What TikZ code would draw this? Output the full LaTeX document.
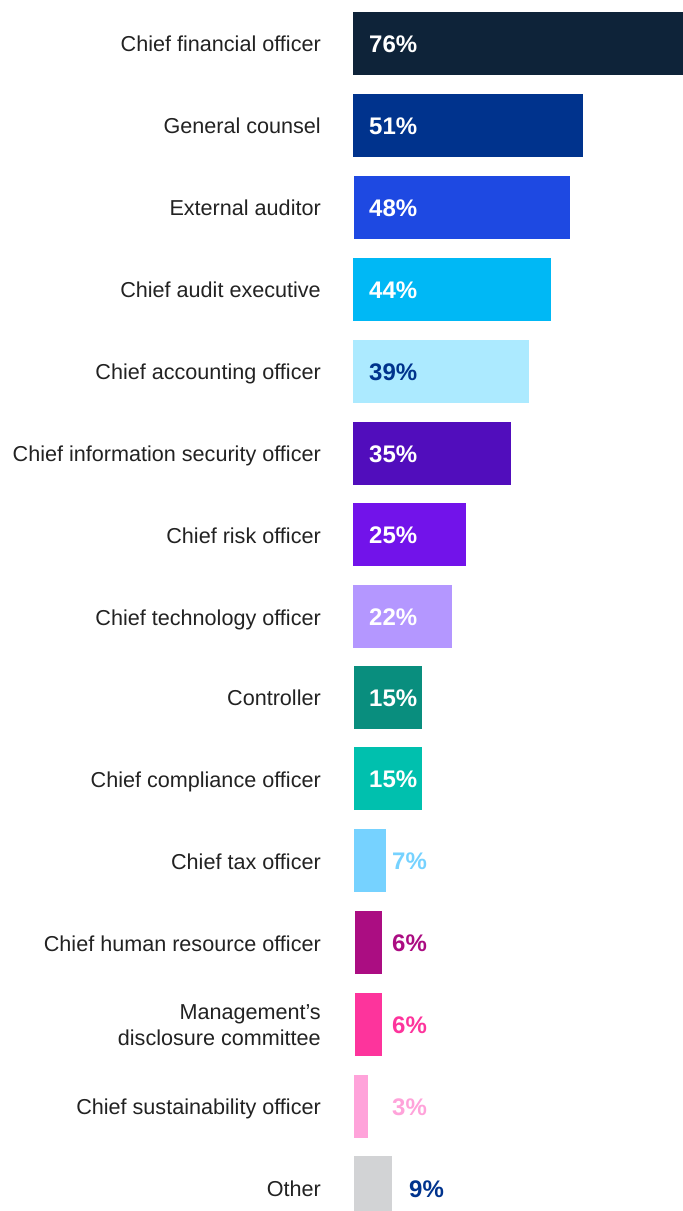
\documentclass[tikz,border=0pt]{standalone}
\usepackage{fontspec}
\setmainfont{Liberation Sans}
\definecolor{c1}{HTML}{0E2339}
\definecolor{c2}{HTML}{00338D}
\definecolor{c3}{HTML}{1E49E2}
\definecolor{c4}{HTML}{00B8F5}
\definecolor{c5}{HTML}{ACEAFF}
\definecolor{c6}{HTML}{510DBC}
\definecolor{c7}{HTML}{7213EA}
\definecolor{c8}{HTML}{B497FF}
\definecolor{c9}{HTML}{098E7E}
\definecolor{c10}{HTML}{00C0AE}
\definecolor{c11}{HTML}{76D2FF}
\definecolor{c12}{HTML}{AB0D82}
\definecolor{c13}{HTML}{FD349C}
\definecolor{c14}{HTML}{FFA3DA}
\definecolor{c15}{HTML}{D2D3D5}
\definecolor{labeltext}{HTML}{222222}
\tikzset{
  lbl/.style={anchor=base east, inner sep=0pt, text=labeltext, font=\fontsize{21.6}{26}\selectfont, align=right},
  pct/.style={anchor=west, inner sep=0pt, font=\fontsize{24}{28}\selectfont\bfseries},
}
\begin{document}
\begin{tikzpicture}[x=1pt,y=-1pt]
\useasboundingbox (0,0) rectangle (683,1211);
\clip (0,0) rectangle (683,1211);
% bars: name/left/right/top/color
\foreach \i/\l/\r/\t/\c in {
  1/353/683/12/c1, 2/353/583/94/c2, 3/354/570/176/c3, 4/353/551/258/c4,
  5/353/529/340/c5, 6/353/511/422/c6, 7/353/466/503/c7, 8/353/452/585/c8,
  9/354/422/666/c9, 10/354/422/747/c10, 11/354/386/829/c11, 12/355/382/911/c12,
  13/355/382/993/c13, 14/354/368/1075/c14, 15/354/392/1156/c15}
  \fill[\c] (\l,\t) rectangle (\r,\t+63);
% labels
\node[lbl] (l1) at (321,51.5) {Chief financial officer};
\node[lbl] (l2) at (321,133.5) {General counsel};
\node[lbl] (l3) at (321,215.5) {External auditor};
\node[lbl] (l4) at (321,297.5) {Chief audit executive};
\node[lbl] (l5) at (321,379.5) {Chief accounting officer};
\node[lbl] (l6) at (321,461.5) {Chief information security officer};
\node[lbl] (l7) at (321,543.5) {Chief risk officer};
\node[lbl] (l8) at (321,625) {Chief technology officer};
\node[lbl] (l9) at (321,705.5) {Controller};
\node[lbl] (l10) at (321,787.5) {Chief compliance officer};
\node[lbl] (l11) at (321,869.5) {Chief tax officer};
\node[lbl] (l12) at (321,951.5) {Chief human resource officer};
\node[lbl, anchor=east] (l13) at (321,1025) {Management’s\\disclosure committee};
\node[lbl] (l14) at (321,1114.5) {Chief sustainability officer};
\node[lbl] (l15) at (321,1196.5) {Other};
% percentages
\node[pct, text=white] (p1) at (369,44) {76\%};
\node[pct, text=white] (p2) at (369,126) {51\%};
\node[pct, text=white] (p3) at (369,208) {48\%};
\node[pct, text=white] (p4) at (369,290) {44\%};
\node[pct, text=c2] (p5) at (369,372) {39\%};
\node[pct, text=white] (p6) at (369,454) {35\%};
\node[pct, text=white] (p7) at (369,535) {25\%};
\node[pct, text=white] (p8) at (369,617) {22\%};
\node[pct, text=white] (p9) at (369,698) {15\%};
\node[pct, text=white] (p10) at (369,779) {15\%};
\node[pct, text=c11] (p11) at (392,861) {7\%};
\node[pct, text=c12] (p12) at (392,943) {6\%};
\node[pct, text=c13] (p13) at (392,1025) {6\%};
\node[pct, text=c14] (p14) at (392,1107) {3\%};
\node[pct, text=c2] (p15) at (409,1189) {9\%};
\end{tikzpicture}
\end{document}
